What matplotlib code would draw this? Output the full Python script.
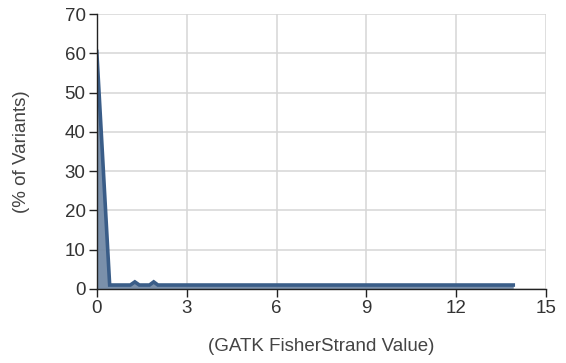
import numpy as np
import matplotlib.pyplot as plt

plt.rcParams['font.family'] = ['Liberation Sans', 'DejaVu Sans']

fs_value = [0.0, 0.43, 1.12, 1.27, 1.42, 1.76, 1.9, 2.04, 13.9]
pct_variants = [60.5, 1.0, 1.0, 1.8, 1.0, 1.0, 1.8, 1.0, 1.0]
x_ticks = [0, 3, 6, 9, 12, 15]
y_ticks = [0, 10, 20, 30, 40, 50, 60, 70]

fig = plt.figure(figsize=(5.66, 3.63), dpi=100)
ax = fig.add_axes([0.171, 0.204, 0.794, 0.757])

ax.fill_between(fs_value, pct_variants, 0, color='#6f87a4', alpha=0.92, lw=0)
ax.plot(fs_value, pct_variants, color='#3a5d88', lw=2.6, solid_joinstyle='miter')

ax.set_xlim(0, 15)
ax.set_ylim(0, 70)
ax.set_xticks(x_ticks)
ax.set_yticks(y_ticks)
ax.grid(True, color='#d6d6d6', lw=1.1)
ax.set_axisbelow(True)
for s in ['top', 'right']:
    ax.spines[s].set_visible(False)
for s in ['left', 'bottom']:
    ax.spines[s].set_color('#222222')
    ax.spines[s].set_linewidth(1.0)
ax.tick_params(length=6, width=1, color='#222222', labelsize=13.5, labelcolor='#333333', pad=2)

ax.set_xlabel('(GATK FisherStrand Value)', fontsize=13.5, color='#444444', labelpad=15)
ax.set_ylabel('(% of Variants)', fontsize=13.5, color='#444444', labelpad=25)

fig.savefig('out.png', dpi=100)
